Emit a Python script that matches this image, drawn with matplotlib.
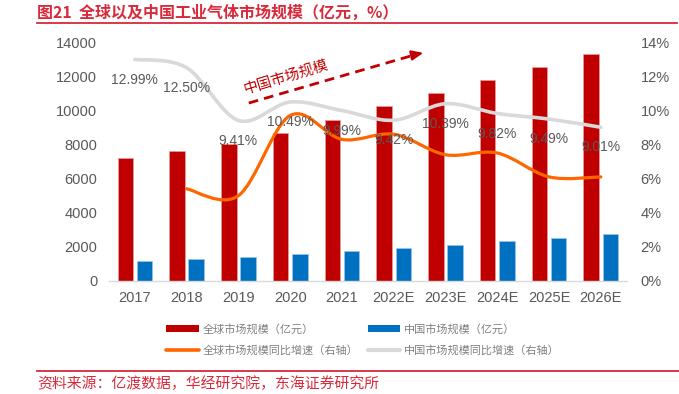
import numpy as np
import matplotlib
matplotlib.use('Agg')
import matplotlib.pyplot as plt
from matplotlib.path import Path
from matplotlib.patches import PathPatch, Patch
from matplotlib.lines import Line2D

plt.rcParams['font.family'] = ['Liberation Sans', 'Noto Sans CJK SC', 'DejaVu Sans']

# data
years = ['2017', '2018', '2019', '2020', '2021', '2022E', '2023E', '2024E', '2025E', '2026E']
global_size = [7200, 7600, 8000, 8700, 9450, 10250, 11000, 11800, 12550, 13300]
china_size = [1170, 1310, 1430, 1580, 1750, 1910, 2100, 2320, 2540, 2780]
global_growth = [None, 5.4, 5.0, 9.7, 8.3, 8.6, 7.4, 7.5, 6.1, 6.1]
china_growth = [12.99, 12.50, 9.41, 10.49, 9.99, 9.42, 10.39, 9.82, 9.49, 9.01]

RED = '#C00000'
BLUE = '#0070C0'
ORANGE = '#FF6600'
GRAY_LINE = '#D9D9D9'
TXT = '#595959'
TITLE_RED = '#D9293B'


def smooth_path(xs, ys):
    # Excel-like smoothed line: cubic bezier segments through every point
    pts = np.column_stack([xs, ys]).astype(float)
    n = len(pts)
    verts = [pts[0]]
    codes = [Path.MOVETO]
    for i in range(n - 1):
        p0 = pts[max(i - 1, 0)]
        p1 = pts[i]
        p2 = pts[i + 1]
        p3 = pts[min(i + 2, n - 1)]
        c1 = p1 + (p2 - p0) / 6.0
        c2 = p2 - (p3 - p1) / 6.0
        verts += [c1, c2, p2]
        codes += [Path.CURVE4] * 3
    return Path(verts, codes)


fig = plt.figure(figsize=(6.79, 3.94), dpi=100)
ax = fig.add_axes([0.1605, 0.287, 0.7625, 0.606])
ax2 = ax.twinx()

x = np.arange(len(years))
w = 0.3
off = 0.185
ax.bar(x - off, global_size, w, color=RED, edgecolor='#E6A0A0', linewidth=0.5, zorder=2)
ax.bar(x + off, china_size, w, color=BLUE, edgecolor='#9CC6EA', linewidth=0.5, zorder=2)

ax.set_xlim(-0.5, len(years) - 0.5)
ax.set_ylim(0, 14000)
ax.set_yticks(np.arange(0, 14001, 2000))
ax.set_xticks(x)
ax.set_xticklabels(years)
ax2.set_ylim(0, 14)
ax2.set_yticks(np.arange(0, 15, 2))
ax2.set_yticklabels([f'{v}%' for v in range(0, 15, 2)])

for a in (ax, ax2):
    for s in ['top', 'left', 'right', 'bottom']:
        a.spines[s].set_visible(False)
ax.spines['bottom'].set_visible(True)
ax.spines['bottom'].set_color('#D9D9D9')
ax.spines['bottom'].set_linewidth(1.0)

ax.tick_params(axis='y', length=0, pad=8.5, labelsize=10.5, labelcolor=TXT)
ax.tick_params(axis='x', length=0, pad=7, labelsize=10.5, labelcolor=TXT)
ax2.tick_params(axis='y', length=0, pad=10, labelsize=10.5, labelcolor=TXT)

# growth lines (right axis)
gx = [i for i, v in enumerate(global_growth) if v is not None]
gy = [v for v in global_growth if v is not None]
ax2.add_patch(PathPatch(smooth_path(x, china_growth), facecolor='none',
                        edgecolor=GRAY_LINE, linewidth=2.6, capstyle='round', zorder=3))
ax2.add_patch(PathPatch(smooth_path(gx, gy), facecolor='none',
                        edgecolor=ORANGE, linewidth=2.3, capstyle='round', zorder=4))

for xi, v in zip(x, china_growth):
    ax2.annotate(f'{v:.2f}%', (xi, v), xytext=(0, -14.5), textcoords='offset points',
                 ha='center', va='center', fontsize=10, color=TXT, zorder=5)

# trend annotation
ax.plot([0.270, 0.592], [0.745, 0.948], transform=ax.transAxes, color=RED,
        linestyle=(0, (3.5, 2.2)), linewidth=2.0, zorder=6)
ax.annotate('', xy=(0.607, 0.955), xytext=(0.585, 0.945),
            xycoords='axes fraction', textcoords='axes fraction',
            arrowprops=dict(arrowstyle='-|>,head_length=0.7,head_width=0.3',
                            color=RED, linewidth=1.5, shrinkA=0, shrinkB=0), zorder=6)
ax.text(0.342, 0.852, '中国市场规模', transform=ax.transAxes, rotation=17,
        rotation_mode='anchor', ha='center', va='center', fontsize=10.5, color=RED, zorder=6)

# legend
handles = [
    Patch(facecolor=RED, edgecolor='none'),
    Line2D([], [], color=ORANGE, linewidth=2.6, solid_capstyle='round'),
    Patch(facecolor=BLUE, edgecolor='none'),
    Line2D([], [], color=GRAY_LINE, linewidth=3.0, solid_capstyle='round'),
]
labels = ['全球市场规模（亿元）', '全球市场规模同比增速（右轴）',
          '中国市场规模（亿元）', '中国市场规模同比增速（右轴）']
leg = fig.legend(handles, labels, loc='center', bbox_to_anchor=(0.535, 0.137), ncol=2,
                 frameon=False, fontsize=8, handlelength=2.9, handleheight=0.6,
                 handletextpad=0.35, columnspacing=0.9, labelspacing=0.95)
for t in leg.get_texts():
    t.set_color('#808080')
    t.set_family(['Noto Sans CJK SC', 'DejaVu Sans'])

# title and source
fig.text(0.055, 0.968, '图21  全球以及中国工业气体市场规模（亿元，%）', ha='left', va='center',
         fontsize=11.5, fontweight='bold', color=TITLE_RED,
         family=['Noto Sans CJK SC', 'DejaVu Sans'])
fig.add_artist(Line2D([0.055, 0.997], [0.941, 0.941], transform=fig.transFigure,
                      color=TITLE_RED, linewidth=1.3))
fig.add_artist(Line2D([0.055, 1.0], [0.059, 0.059], transform=fig.transFigure,
                      color=TITLE_RED, linewidth=1.3))
fig.text(0.055, 0.027, '资料来源：亿渡数据，华经研究院，东海证券研究所', ha='left', va='center',
         fontsize=10.7, color=TITLE_RED, family=['Noto Sans CJK SC', 'DejaVu Sans'])

fig.savefig('out.png', dpi=100)
